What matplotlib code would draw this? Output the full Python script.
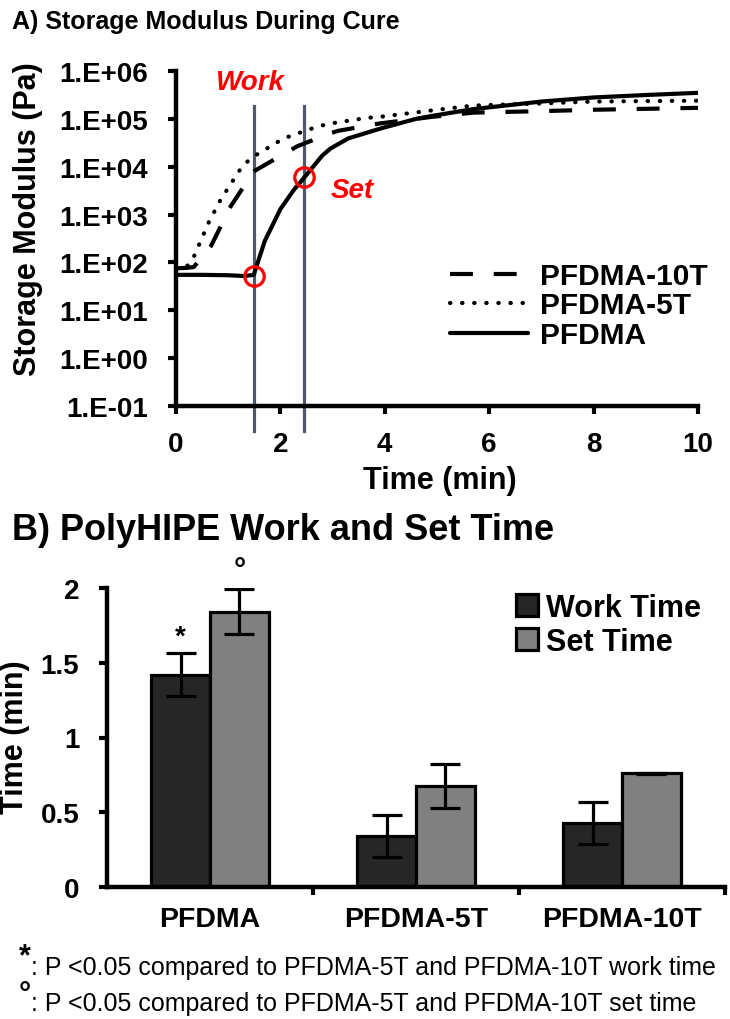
import matplotlib
matplotlib.use("Agg")
import matplotlib.pyplot as plt
import numpy as np

plt.rcParams['font.family'] = ['Liberation Sans', 'DejaVu Sans']
plt.rcParams['font.weight'] = 'bold'
plt.rcParams['axes.labelweight'] = 'bold'

# A) storage modulus during cure (values read off the curves)
t_pfdma = [0, 0.5, 1.0, 1.3, 1.49, 1.7, 2.0, 2.25, 2.46, 2.8, 2.96, 3.3, 3.9, 4.6, 4.9, 5.7, 7.0, 8.0, 9.0, 10.0]
g_pfdma = [55, 55, 54, 52, 55, 280, 1300, 3200, 6000, 17000, 24000, 39000, 62000, 100000, 115000, 160000, 230000, 280000, 315000, 350000]

t_5t = [0, 0.2, 0.34, 0.63, 0.86, 1.24, 1.43, 2.06, 2.71, 2.96, 3.66, 3.9, 4.9, 5.7, 7.0, 8.0, 9.0, 10.0]
g_5t = [75, 80, 130, 700, 2100, 9100, 15000, 39000, 69000, 80000, 105000, 110000, 150000, 190000, 210000, 230000, 235000, 240000]

t_10t = [0, 0.2, 0.34, 0.67, 1.05, 1.49, 2.33, 2.96, 3.1, 3.9, 4.9, 5.7, 7.0, 8.0, 9.0, 10.0]
g_10t = [75, 77, 80, 220, 1500, 8000, 27000, 50000, 56000, 80000, 110000, 135000, 145000, 155000, 162000, 170000]

work_t = 1.49
set_t = 2.46
work_g = 52
set_g = 6200

ytick_vals = [1e-1, 1e0, 1e1, 1e2, 1e3, 1e4, 1e5, 1e6]
ytick_labels = ['1.E-01', '1.E+00', '1.E+01', '1.E+02', '1.E+03', '1.E+04', '1.E+05', '1.E+06']
xtick_vals = [0, 2, 4, 6, 8, 10]

# B) work and set time
groups = ['PFDMA', 'PFDMA-5T', 'PFDMA-10T']
work_time = [1.42, 0.34, 0.43]
work_err = [0.145, 0.14, 0.14]
set_time = [1.84, 0.675, 0.76]
set_err = [0.15, 0.145, 0.005]

fig = plt.figure(figsize=(7.3, 10.2), dpi=100)

# ---------- panel A ----------
ax = fig.add_axes([176/730, 1-407/1020, (698-176)/730, (407-72)/1020])
lw = 3
ax.plot(t_10t, g_10t, color='black', lw=lw, linestyle=(0, (5.5, 5)), label='PFDMA-10T')
ax.plot(t_5t, g_5t, color='black', lw=lw, linestyle=(0, (0.1, 2.8)), dash_capstyle='round', label='PFDMA-5T')
ax.plot(t_pfdma, g_pfdma, color='black', lw=lw, label='PFDMA', solid_capstyle='round')

for tv in [work_t, set_t]:
    ax.axvline(tv, ymin=-0.075, ymax=0.896, color='#4f596b', lw=2.3, clip_on=False, zorder=1)

ax.plot([work_t, set_t], [work_g, set_g], 'o', ms=14, mfc='none', mec='#ff0000', mew=2.3, zorder=5)
ax.text(1.43, 6e5, 'Work', color='#ff0000', fontsize=20, style='italic', ha='center', va='center')
ax.text(3.38, 3200, 'Set', color='#ff0000', fontsize=20, style='italic', ha='center', va='center')

ax.set_yscale('log')
ax.set_ylim(1e-1, 1e6)
ax.set_xlim(0, 10)
ax.set_yticks(ytick_vals)
ax.set_yticklabels(ytick_labels)
ax.yaxis.set_minor_locator(matplotlib.ticker.NullLocator())
ax.set_xticks(xtick_vals)
ax.tick_params(axis='both', labelsize=20, width=3, length=6, direction='out')
ax.tick_params(axis='y', pad=14)
ax.tick_params(axis='x', pad=12)
for s in ['top', 'right']:
    ax.spines[s].set_visible(False)
for s in ['left', 'bottom']:
    ax.spines[s].set_linewidth(3.2)
ax.set_ylabel('Storage Modulus (Pa)', fontsize=22)
ax.yaxis.set_label_coords(-0.255, 0.56)
ax.set_xlabel('Time (min)', fontsize=22)
ax.xaxis.set_label_coords(0.506, -0.175)

ax.legend(loc='upper left', bbox_to_anchor=(450/730, 1-263/1020), bbox_transform=fig.transFigure,
          frameon=False, fontsize=21.5, handlelength=2.6, handletextpad=0.4, labelspacing=0.05,
          borderpad=0, borderaxespad=0)

fig.text(12/730, 1-22/1020, 'A) Storage Modulus During Cure', fontsize=18, va='center', ha='left')

# ---------- panel B ----------
bx = fig.add_axes([107/730, 1-888/1020, (725-107)/730, (888-589)/1020])
x = np.arange(len(groups))
w = 0.286
ekw = dict(elinewidth=2.3, capthick=2.3)
bx.bar(x - w/2, work_time, w, yerr=work_err, color='#262626', edgecolor='black', linewidth=2.3,
       capsize=11, error_kw=ekw, label='Work Time')
bx.bar(x + w/2, set_time, w, yerr=set_err, color='#808080', edgecolor='black', linewidth=2.3,
       capsize=11, error_kw=ekw, label='Set Time')

bx.text(x[0] - w/2, work_time[0] + work_err[0] + 0.02, '*', fontsize=20, ha='center', va='bottom')
bx.text(x[0] + w/2, set_time[0] + set_err[0] + 0.03, '°', fontsize=22, ha='center', va='bottom', clip_on=False)

bx.set_xlim(-0.5, 2.5)
bx.set_ylim(0, 2)
bx.set_yticks([0, 0.5, 1, 1.5, 2])
bx.set_yticklabels(['0', '0.5', '1', '1.5', '2'])
bx.set_xticks(x)
bx.set_xticklabels(groups)
bx.set_xticks([0.5, 1.5, 2.5], minor=True)
bx.tick_params(axis='x', which='major', length=0, labelsize=20.5, pad=14)
bx.tick_params(axis='x', which='minor', length=6, width=3, direction='out')
bx.tick_params(axis='y', labelsize=20, width=3, length=6, direction='out', pad=14)
for s in ['top', 'right']:
    bx.spines[s].set_visible(False)
for s in ['left', 'bottom']:
    bx.spines[s].set_linewidth(3.2)
bx.set_ylabel('Time (min)', fontsize=22)
bx.yaxis.set_label_coords(-0.125, 0.505)

bx.legend(loc='upper left', bbox_to_anchor=(516/730, 1-594/1020), bbox_transform=fig.transFigure,
          frameon=False, fontsize=22, handlelength=0.72, handleheight=0.72, handletextpad=0.25,
          labelspacing=0.12, borderpad=0, borderaxespad=0)

fig.text(12/730, 1-530/1020, 'B) PolyHIPE Work and Set Time', fontsize=26, va='center', ha='left')

# footnotes
fig.text(19/730, 1-957/1020, '*', fontsize=22, va='center', ha='left')
fig.text(31/730, 1-968/1020, ': P <0.05 compared to PFDMA-5T and PFDMA-10T work time',
         fontsize=18, fontweight='normal', va='center', ha='left')
fig.text(19/730, 1-995/1020, '°', fontsize=22, va='center', ha='left')
fig.text(31/730, 1-1004/1020, ': P <0.05 compared to PFDMA-5T and PFDMA-10T set time',
         fontsize=18, fontweight='normal', va='center', ha='left')

fig.savefig('out.png', dpi=100)
